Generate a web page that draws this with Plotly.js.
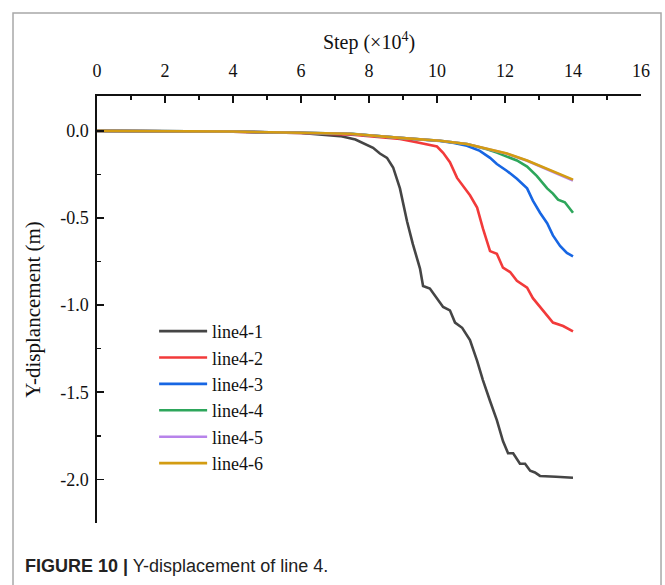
<!DOCTYPE html>
<html>
<head>
<meta charset="utf-8">
<script src="https://cdn.plot.ly/plotly-3.0.1.min.js"></script>
<style>html,body{margin:0;padding:0;background:#fff;}#chart{width:665px;height:585px;}</style>
</head>
<body>
<div id="chart"></div>
<script>
const seriesNames = ["line4-1", "line4-2", "line4-3", "line4-4", "line4-5", "line4-6"];
const seriesColors = ["#454545", "#f23a3a", "#1766e3", "#2da65b", "#b783ea", "#d39c12"];

const line1X = [0, 2, 4, 6, 7.15, 7.6, 7.82, 8.12, 8.32, 8.53, 8.71, 8.91, 9.12, 9.29, 9.5, 9.59, 9.79, 10.0, 10.18, 10.38, 10.53, 10.74, 10.97, 11.18, 11.35, 11.56, 11.76, 11.94, 12.09, 12.24, 12.44, 12.59, 12.74, 12.88, 13.03, 13.5, 14.0];
const line1Y = [0, -0.002, -0.005, -0.012, -0.03, -0.05, -0.069, -0.097, -0.13, -0.155, -0.21, -0.33, -0.52, -0.65, -0.79, -0.89, -0.905, -0.96, -1.01, -1.03, -1.10, -1.13, -1.20, -1.32, -1.43, -1.55, -1.66, -1.78, -1.85, -1.85, -1.91, -1.91, -1.95, -1.96, -1.98, -1.985, -1.99];

const line2X = [0, 2, 4, 6, 7, 7.5, 8, 8.5, 8.91, 9.4, 9.79, 10.0, 10.18, 10.38, 10.59, 10.76, 10.97, 11.18, 11.35, 11.56, 11.76, 11.94, 12.15, 12.35, 12.65, 12.82, 13.03, 13.24, 13.41, 13.71, 14.0];
const line2Y = [0, -0.002, -0.005, -0.012, -0.018, -0.022, -0.03, -0.04, -0.046, -0.065, -0.083, -0.09, -0.126, -0.18, -0.27, -0.315, -0.37, -0.44, -0.56, -0.69, -0.705, -0.785, -0.81, -0.86, -0.90, -0.96, -1.01, -1.06, -1.10, -1.12, -1.15];

const line3X = [0, 2, 4, 6, 7.5, 8.9, 10.09, 10.5, 10.88, 11.26, 11.56, 11.76, 12.06, 12.35, 12.65, 12.82, 13.03, 13.24, 13.41, 13.62, 13.82, 14.0];
const line3Y = [0, -0.002, -0.004, -0.011, -0.018, -0.04, -0.058, -0.07, -0.086, -0.115, -0.155, -0.19, -0.23, -0.275, -0.33, -0.40, -0.47, -0.53, -0.60, -0.66, -0.70, -0.72];

const line4X = [0, 2, 4, 6, 7.5, 8.9, 10.09, 10.88, 11.47, 11.76, 12.06, 12.35, 12.65, 12.94, 13.24, 13.41, 13.56, 13.76, 14.0];
const line4Y = [0, -0.002, -0.004, -0.011, -0.017, -0.04, -0.057, -0.076, -0.105, -0.125, -0.15, -0.17, -0.205, -0.26, -0.33, -0.36, -0.395, -0.41, -0.47];

const line5X = [0, 2, 4, 6, 7.44, 8.91, 10.09, 10.88, 11.47, 12.06, 12.65, 13.24, 14.0];
const line5Y = [0, -0.002, -0.004, -0.011, -0.017, -0.04, -0.057, -0.075, -0.104, -0.132, -0.172, -0.223, -0.285];

const line6X = [0, 2, 4, 6, 7.44, 8.91, 10.09, 10.88, 11.47, 12.06, 12.65, 13.24, 14.0];
const line6Y = [0, -0.002, -0.004, -0.011, -0.017, -0.04, -0.057, -0.075, -0.103, -0.13, -0.17, -0.22, -0.28];

const xTickVals = [0, 2, 4, 6, 8, 10, 12, 14, 16];
const yTickVals = [0, -0.5, -1.0, -1.5, -2.0];
const yTickText = ["0.0", "-0.5", "-1.0", "-1.5", "-2.0"];

const xs = [line1X, line2X, line3X, line4X, line5X, line6X];
const ys = [line1Y, line2Y, line3Y, line4Y, line5Y, line6Y];

const traces = seriesNames.map((n, i) => ({
  type: "scatter", mode: "lines", name: n,
  x: xs[i], y: ys[i],
  line: {color: seriesColors[i], width: 2.6}
}));

const serif = "Liberation Serif, Times New Roman, serif";
const layout = {
  width: 665, height: 585,
  margin: {l: 97, r: 24, t: 96, b: 62},
  paper_bgcolor: "#fff", plot_bgcolor: "#fff",
  showlegend: true,
  legend: {x: 0.105, y: 0.492, xanchor: "left", yanchor: "top", bgcolor: "rgba(0,0,0,0)",
           font: {family: serif, size: 18, color: "#111"}, tracegroupgap: 0, itemwidth: 48},
  xaxis: {
    side: "top", range: [0, 16], tickvals: xTickVals,
    showline: true, linecolor: "#111", linewidth: 1.6, mirror: false,
    ticks: "inside", ticklen: 7, tickwidth: 1.6, tickcolor: "#111",
    minor: {dtick: 1, ticks: "inside", ticklen: 4, tickwidth: 1.4, tickcolor: "#111"},
    showgrid: false, zeroline: false, ticklabelstandoff: 10,
    tickfont: {family: serif, size: 18, color: "#111"},
    title: {text: "Step (×10<sup>4</sup>)", font: {family: serif, size: 20, color: "#111"}, standoff: 6}
  },
  yaxis: {
    range: [-2.25, 0.2], tickvals: yTickVals, ticktext: yTickText,
    showline: true, linecolor: "#111", linewidth: 1.6, mirror: false,
    ticks: "inside", ticklen: 7, tickwidth: 1.6, tickcolor: "#111",
    minor: {dtick: 0.25, tick0: 0, ticks: "inside", ticklen: 4, tickwidth: 1.4, tickcolor: "#111"},
    showgrid: false, zeroline: false, ticklabelstandoff: 3,
    tickfont: {family: serif, size: 18, color: "#111"},
    title: {text: "Y-displancement (m)", font: {family: serif, size: 21, color: "#111"}, standoff: 14}
  },
  shapes: [{
    type: "rect", xref: "paper", yref: "paper",
    x0: -0.1544, x1: 1.0368, y0: -0.2, y1: 1.1944,
    line: {color: "#a8a8a8", width: 1.5}, fillcolor: "rgba(0,0,0,0)", layer: "below"
  }],
  annotations: [{
    xref: "paper", yref: "paper", x: -0.136, y: -0.1, xanchor: "left", yanchor: "middle",
    showarrow: false, align: "left",
    text: "<b>FIGURE 10 |</b> Y-displacement of line 4.",
    font: {family: "Liberation Sans, Arial, sans-serif", size: 18, color: "#222"}
  }]
};

Plotly.newPlot("chart", traces, layout, {displayModeBar: false, staticPlot: true});
</script>
</body>
</html>
